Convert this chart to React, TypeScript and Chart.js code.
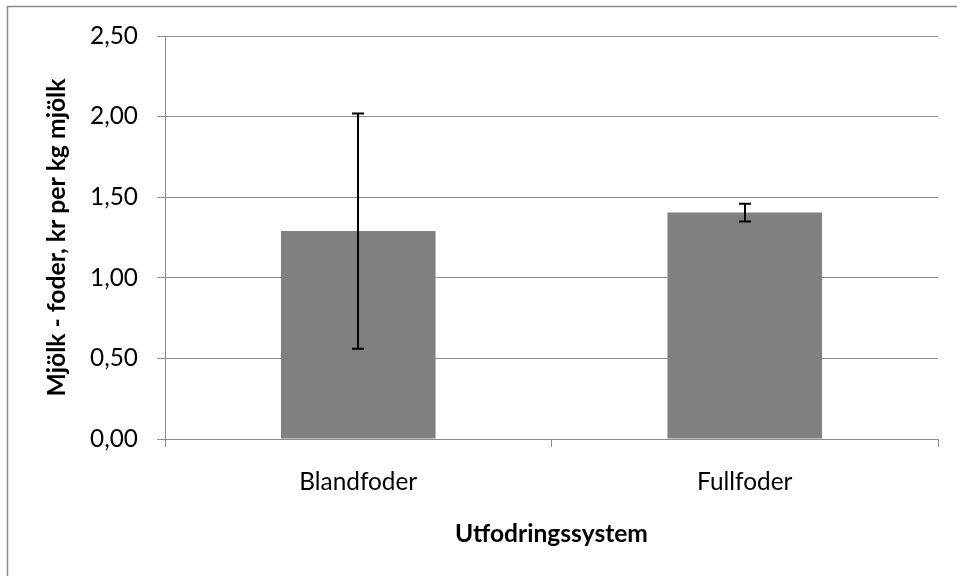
import React, { useEffect, useRef } from 'react';
import { Chart, registerables } from 'chart.js';

Chart.register(...registerables);

const categories = ['Blandfoder', 'Fullfoder'];
const values = [1.29, 1.405];
const errors = [0.73, 0.055];
const yMin = 0;
const yMax = 2.5;
const yStep = 0.5;
const xTitle = 'Utfodringssystem';
const yTitle = 'Mjölk - foder, kr per kg mjölk';

const FONT = 'Lato, "Open Sans", sans-serif';
const GRID = '#8c8c8c';

function fitSize(text: string, weight: string, target: number): number {
  const c = document.createElement('canvas').getContext('2d')!;
  c.font = `${weight} 100px ${FONT}`;
  return (100 * target) / c.measureText(text).width;
}

export default function App() {
  const ref = useRef<HTMLCanvasElement | null>(null);

  useEffect(() => {
    if (!ref.current) return;
    const tickSize = fitSize('Blandfoder', 'normal', 118);
    const xTitleSize = fitSize(xTitle, 'bold', 193);
    const yTitleSize = fitSize(yTitle, 'bold', 318);
    const lh = 1.2;

    const errorBars = {
      id: 'errorBars',
      afterDatasetsDraw(chart: any) {
        const ctx = chart.ctx;
        const meta = chart.getDatasetMeta(0);
        const ys = chart.scales.y;
        ctx.save();
        ctx.strokeStyle = '#000';
        ctx.lineWidth = 2;
        meta.data.forEach((bar: any, i: number) => {
          const x = Math.round(bar.x);
          const top = ys.getPixelForValue(values[i] + errors[i]);
          const bot = ys.getPixelForValue(values[i] - errors[i]);
          ctx.beginPath();
          ctx.moveTo(x, top);
          ctx.lineTo(x, bot);
          ctx.moveTo(x - 6, top);
          ctx.lineTo(x + 6, top);
          ctx.moveTo(x - 6, bot);
          ctx.lineTo(x + 6, bot);
          ctx.stroke();
        });
        ctx.restore();
      },
    };

    const outerBorder = {
      id: 'outerBorder',
      beforeDraw(chart: any) {
        const ctx = chart.ctx;
        ctx.save();
        ctx.strokeStyle = '#8a8a8a';
        ctx.lineWidth = 1.5;
        ctx.beginPath();
        ctx.moveTo(7.5, 600);
        ctx.lineTo(7.5, 6.5);
        ctx.lineTo(1000, 6.5);
        ctx.stroke();
        ctx.restore();
      },
    };

    const chart = new Chart(ref.current, {
      type: 'bar',
      data: {
        labels: categories,
        datasets: [
          {
            data: values,
            backgroundColor: '#808080',
            borderWidth: 0,
            barPercentage: 0.4,
            categoryPercentage: 1.0,
          },
        ],
      },
      options: {
        animation: false,
        responsive: false,
        maintainAspectRatio: false,
        layout: { padding: { left: 0, top: 36, right: 19, bottom: 0 } },
        plugins: {
          legend: { display: false },
          tooltip: { enabled: false },
        },
        scales: {
          x: {
            afterFit(s: any) {
              s.height = 137;
            },
            grid: {
              display: true,
              drawOnChartArea: false,
              drawTicks: true,
              tickLength: 8,
              color: GRID,
              offset: true,
            },
            border: { display: true, color: GRID, width: 1 },
            ticks: {
              color: '#000',
              font: { family: FONT, size: tickSize, lineHeight: lh },
              padding: 482 - 447 - (tickSize * lh) / 2,
              maxRotation: 0,
            },
            title: {
              display: true,
              text: xTitle,
              color: '#000',
              font: { family: FONT, size: xTitleSize, weight: 'bold', lineHeight: lh },
              padding: { top: 0, bottom: 42 - (xTitleSize * lh) / 2 },
            },
          },
          y: {
            min: yMin,
            max: yMax,
            afterFit(s: any) {
              s.width = 165;
            },
            grid: {
              color: GRID,
              lineWidth: 1,
              drawTicks: true,
              tickLength: 8,
            },
            border: { display: true, color: GRID, width: 1 },
            ticks: {
              stepSize: yStep,
              color: '#000',
              font: { family: FONT, size: tickSize, lineHeight: lh },
              padding: 19,
              callback: (v: any) => Number(v).toFixed(2).replace('.', ','),
            },
            title: {
              display: true,
              text: yTitle,
              color: '#000',
              font: { family: FONT, size: yTitleSize, weight: 'bold', lineHeight: lh },
              padding: { top: 57 - (yTitleSize * lh) / 2, bottom: 0 },
            },
          },
        },
      },
      plugins: [errorBars, outerBorder],
    });
    return () => chart.destroy();
  }, []);

  return (
    <div style={{ position: 'absolute', left: 0, top: 0, width: 957, height: 576 }}>
      <canvas ref={ref} width={957} height={576} style={{ width: 957, height: 576, display: 'block' }} />
    </div>
  );
}
